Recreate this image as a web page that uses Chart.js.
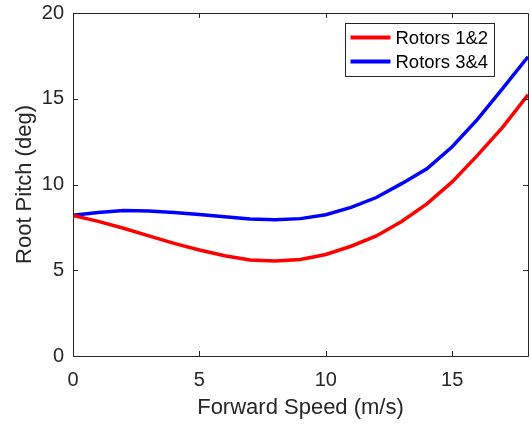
<!DOCTYPE html>
<html>
<head>
<meta charset="utf-8">
<script src="https://cdn.jsdelivr.net/npm/chart.js@4/dist/chart.umd.min.js"></script>
<style>
  html, body { margin: 0; padding: 0; background: #fff; }
  #wrap { width: 531px; height: 424px; }
</style>
</head>
<body>
<div id="wrap"><canvas id="pitchChart" width="531" height="424"></canvas></div>
<script>
// data
const speeds = [0, 1, 2, 3, 4, 5, 6, 7, 8, 9, 10, 11, 12, 13, 14, 15, 16, 17, 18];
const rotors12 = [8.2, 7.85, 7.45, 7.0, 6.57, 6.18, 5.85, 5.6, 5.54, 5.63, 5.92, 6.4, 7.0, 7.84, 8.87, 10.15, 11.7, 13.35, 15.23];
const rotors34 = [8.21, 8.37, 8.48, 8.46, 8.37, 8.25, 8.12, 7.99, 7.94, 8.01, 8.24, 8.67, 9.24, 10.05, 10.92, 12.2, 13.8, 15.6, 17.45];
const seriesNames = ['Rotors 1&2', 'Rotors 3&4'];
const xTicks = [0, 5, 10, 15];
const yTicks = [0, 5, 10, 15, 20];

const axisColor = '#262626';
const fontFamily = 'Liberation Sans, Arial, Helvetica, sans-serif';

function toPoints(xs, ys) {
    return xs.map((x, i) => ({ x: x, y: ys[i] }));
}

// box round the axes plus inward ticks (matlab style)
const boxPlugin = {
    id: 'boxPlugin',
    afterDatasetsDraw(chart) {
        const ctx = chart.ctx;
        const a = chart.chartArea;
        const xs = chart.scales.x;
        const ys = chart.scales.y;
        const len = 5;
        ctx.save();
        ctx.strokeStyle = axisColor;
        ctx.lineWidth = 1;
        ctx.beginPath();
        ctx.rect(Math.round(a.left) + 0.5, Math.round(a.top) + 0.5,
            Math.round(a.right - a.left), Math.round(a.bottom - a.top));
        xTicks.forEach(v => {
            const px = Math.round(xs.getPixelForValue(v)) + 0.5;
            ctx.moveTo(px, a.bottom); ctx.lineTo(px, a.bottom - len);
            ctx.moveTo(px, a.top); ctx.lineTo(px, a.top + len);
        });
        yTicks.forEach(v => {
            const py = Math.round(ys.getPixelForValue(v)) + 0.5;
            ctx.moveTo(a.left, py); ctx.lineTo(a.left + len, py);
            ctx.moveTo(a.right, py); ctx.lineTo(a.right - len, py);
        });
        ctx.stroke();
        ctx.restore();
    }
};

// legend drawn inside the axes, top right
const legendPlugin = {
    id: 'insideLegend',
    afterDraw(chart) {
        const ctx = chart.ctx;
        const a = chart.chartArea;
        const boxW = 149, boxH = 53;
        const bx = a.right - 183 + 0.5;
        const by = a.top + 10 + 0.5;
        ctx.save();
        ctx.fillStyle = '#fff';
        ctx.fillRect(bx, by, boxW, boxH);
        ctx.strokeStyle = axisColor;
        ctx.lineWidth = 1;
        ctx.strokeRect(bx, by, boxW, boxH);
        ctx.font = '18.5px ' + fontFamily;
        ctx.textBaseline = 'middle';
        ctx.textAlign = 'left';
        chart.data.datasets.forEach((ds, i) => {
            const ly = by + 14 + i * 24;
            ctx.strokeStyle = ds.borderColor;
            ctx.lineWidth = 4;
            ctx.beginPath();
            ctx.moveTo(bx + 5, ly);
            ctx.lineTo(bx + 45, ly);
            ctx.stroke();
            ctx.fillStyle = '#000';
            ctx.fillText(ds.label, bx + 50, ly + 1);
        });
        ctx.restore();
    }
};

const ctx = document.getElementById('pitchChart').getContext('2d');
const chart = new Chart(ctx, {
    type: 'line',
    data: {
        datasets: [
            {
                label: seriesNames[0],
                data: toPoints(speeds, rotors12),
                borderColor: '#ff0000',
                borderWidth: 3.5,
                pointRadius: 0,
                tension: 0,
                fill: false
            },
            {
                label: seriesNames[1],
                data: toPoints(speeds, rotors34),
                borderColor: '#0000ff',
                borderWidth: 3.5,
                pointRadius: 0,
                tension: 0,
                fill: false
            }
        ]
    },
    options: {
        responsive: false,
        animation: false,
        layout: { padding: { left: 0, top: 13, right: 3, bottom: 0 } },
        plugins: {
            legend: { display: false },
            tooltip: { enabled: false }
        },
        scales: {
            x: {
                type: 'linear',
                min: 0,
                max: 18,
                afterFit(scale) {
                    scale.height = 68;
                    scale.paddingLeft = 0;
                    scale.paddingRight = 0;
                },
                afterBuildTicks(scale) { scale.ticks = xTicks.map(v => ({ value: v })); },
                grid: { display: false, drawTicks: false },
                border: { display: false },
                ticks: {
                    color: axisColor,
                    padding: 12,
                    font: { family: fontFamily, size: 20 }
                },
                title: {
                    display: true,
                    text: 'Forward Speed (m/s)',
                    color: axisColor,
                    padding: { top: 0, bottom: 3 },
                    font: { family: fontFamily, size: 22 }
                }
            },
            y: {
                type: 'linear',
                min: 0,
                max: 20,
                afterFit(scale) {
                    scale.width = 73;
                    scale.paddingTop = 0;
                    scale.paddingBottom = 0;
                },
                afterBuildTicks(scale) { scale.ticks = yTicks.map(v => ({ value: v })); },
                grid: { display: false, drawTicks: false },
                border: { display: false },
                ticks: {
                    color: axisColor,
                    padding: 9,
                    font: { family: fontFamily, size: 20 }
                },
                title: {
                    display: true,
                    text: 'Root Pitch (deg)',
                    color: axisColor,
                    padding: { top: 12, bottom: 0 },
                    font: { family: fontFamily, size: 22 }
                }
            }
        }
    },
    plugins: [boxPlugin, legendPlugin]
});
</script>
</body>
</html>
